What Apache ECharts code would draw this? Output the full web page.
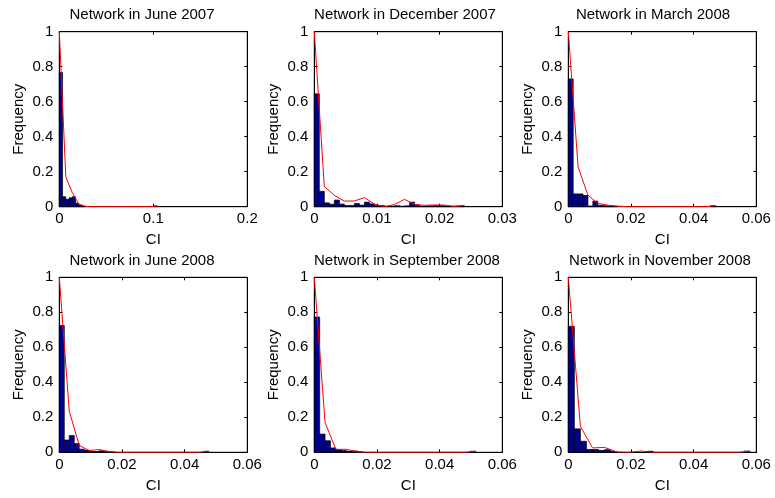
<!DOCTYPE html>
<html>
<head>
<meta charset="utf-8">
<script src="https://cdn.jsdelivr.net/npm/echarts@6/dist/echarts.min.js"></script>
<style>
html,body{margin:0;padding:0;background:#fff;}
#chart{width:775px;height:498px;}
</style>
</head>
<body>
<div id="chart"></div>
<script>
// ---------------- data ----------------
const panelTitles = [
  'Network in June 2007', 'Network in December 2007', 'Network in March 2008',
  'Network in June 2008', 'Network in September 2008', 'Network in November 2008'
];
const xAxisTitle = 'CI';
const yAxisTitle = 'Frequency';
// x-axis range / tick step per panel
const xAxisMax = [0.2, 0.03, 0.06, 0.06, 0.06, 0.06];
const xTickStep = [0.1, 0.01, 0.02, 0.02, 0.02, 0.02];
const yAxisMax = 1;
const yTickStep = 0.2;
// largest CI value in each network (histograms span [0, ciMax])
const ciMax = [0.104, 0.024, 0.047, 0.0477, 0.0515, 0.058];
const histBins = 30;   // bars
const lineBins = 15;   // red line (16 points)

// bar heights (relative frequency), 30 bins each
const histJun07 = [0.767,0.057,0.042,0.051,0.057,0.02,0.008,0.003,0,0,0,0,0,0,0,0,0,0,0,0,0,0,0,0,0,0,0,0,0,0.005];
const histDec07 = [0.645,0.088,0.022,0.014,0.038,0.015,0.007,0.007,0.018,0.009,0.026,0.016,0.007,0.007,0.003,0.003,0.006,0.003,0.005,0.026,0.009,0.003,0.003,0.005,0.006,0.006,0.003,0.002,0.004,0.003];
const histMar08 = [0.73,0.073,0.073,0.064,0.004,0.032,0.008,0.006,0.004,0.003,0,0,0,0,0,0,0,0,0,0,0,0,0,0,0,0,0,0,0,0.006];
const histJun08 = [0.725,0.07,0.096,0.05,0.018,0.012,0.005,0.004,0.009,0.006,0.003,0,0,0,0,0,0,0,0,0,0,0,0,0,0,0,0,0,0,0.006];
const histSep08 = [0.773,0.104,0.066,0.025,0.015,0.01,0.006,0.008,0.003,0,0,0,0,0,0,0,0,0,0,0,0,0,0,0,0,0,0,0,0,0.006];
const histNov08 = [0.72,0.134,0.063,0.016,0.016,0.011,0.015,0.005,0,0,0,0,0,0.006,0,0,0,0,0,0,0,0,0,0,0,0,0,0,0,0.007];

// red line values, 16 points each
const lineJun07 = [1,0.17,0.08,0.015,0.002,0,0,0,0,0,0,0,0,0,0,0.004];
const lineDec07 = [1,0.115,0.065,0.032,0.033,0.052,0.015,0,0.013,0.042,0.013,0.008,0.01,0.009,0.002,0.008];
const lineMar08 = [1,0.227,0.066,0.019,0.009,0.003,0,0,0,0,0,0,0,0,0,0.006];
const lineJun08 = [1,0.235,0.04,0.01,0.016,0.003,0,0,0,0,0,0,0,0,0,0.006];
const lineSep08 = [1,0.17,0.017,0.017,0.002,0,0,0,0,0,0,0,0,0,0,0.006];
const lineNov08 = [1,0.148,0.025,0.028,0.002,0,0.007,0,0,0,0,0,0,0,0,0.006];

const histAll = [histJun07, histDec07, histMar08, histJun08, histSep08, histNov08];
const lineAll = [lineJun07, lineDec07, lineMar08, lineJun08, lineSep08, lineNov08];

// ---------------- layout ----------------
const FONT = 'Liberation Sans, Arial, Helvetica, sans-serif';
const FS = 15;
const colLeft = [59.3, 314.3, 568.3];
const rowTop = [31.7, 277.3];
const plotW = 188, plotH = 175;
const titleCenterX = [142, 405, 653, 142, 407, 660];
const titleCenterY = [14.7, 260.5];

const grids = [], xAxes = [], yAxes = [], series = [], graphics = [];

for (let p = 0; p < 6; p++) {
  const r = Math.floor(p / 3), c = p % 3;
  grids.push({
    left: colLeft[c], top: rowTop[r], width: plotW, height: plotH,
    show: true, borderColor: '#000', borderWidth: 1, backgroundColor: '#fff'
  });
  const common = {
    type: 'value', gridIndex: p,
    splitLine: { show: false },
    axisLine: { show: true, onZero: false, lineStyle: { color: '#000', width: 1 } },
    axisTick: { show: true, inside: true, length: 3, lineStyle: { color: '#000' } }
  };
  xAxes.push(Object.assign({}, common, {
    position: 'bottom', min: 0, max: xAxisMax[p], interval: xTickStep[p],
    name: xAxisTitle, nameLocation: 'middle', nameGap: 26,
    nameTextStyle: { fontFamily: FONT, fontSize: FS, color: '#000' },
    axisLabel: { show: true, margin: 5, fontFamily: FONT, fontSize: FS, color: '#000', showMaxLabel: true, showMinLabel: true }
  }));
  xAxes.push(Object.assign({}, common, {
    position: 'top', min: 0, max: xAxisMax[p], interval: xTickStep[p],
    axisLabel: { show: false }
  }));
  yAxes.push(Object.assign({}, common, {
    position: 'left', min: 0, max: yAxisMax, interval: yTickStep,
    name: yAxisTitle, nameLocation: 'middle', nameGap: 33, nameRotate: 90,
    nameTextStyle: { fontFamily: FONT, fontSize: FS, color: '#000' },
    axisLabel: { show: true, margin: 6, fontFamily: FONT, fontSize: FS, color: '#000' }
  }));
  yAxes.push(Object.assign({}, common, {
    position: 'right', min: 0, max: yAxisMax, interval: yTickStep,
    axisLabel: { show: false }
  }));

  const hw = ciMax[p] / histBins;
  const barData = histAll[p]
    .map((f, i) => [i * hw, (i + 1) * hw, f])
    .filter(d => d[2] > 0);
  series.push({
    type: 'custom', xAxisIndex: 2 * p, yAxisIndex: 2 * p, z: 2,
    data: barData,
    encode: { x: [0, 1], y: 2 },
    renderItem: function (params, api) {
      const p0 = api.coord([api.value(0), 0]);
      const p1 = api.coord([api.value(1), api.value(2)]);
      return {
        type: 'rect',
        shape: { x: p0[0], y: p1[1], width: p1[0] - p0[0], height: p0[1] - p1[1] },
        style: { fill: '#00008F', stroke: '#000', lineWidth: 0.7 }
      };
    },
    silent: true
  });

  const lw = ciMax[p] / lineBins;
  series.push({
    type: 'line', xAxisIndex: 2 * p, yAxisIndex: 2 * p, z: 5,
    data: lineAll[p].map((f, i) => [i * lw, f]),
    showSymbol: false, symbol: 'none',
    lineStyle: { color: '#FF0000', width: 1 },
    animation: false, silent: true
  });

  graphics.push({
    type: 'text', x: titleCenterX[p], y: titleCenterY[r],
    style: { text: panelTitles[p], font: FS + 'px ' + FONT, fill: '#000', align: 'center', verticalAlign: 'middle' }
  });
}

const chart = echarts.init(document.getElementById('chart'), null, { renderer: 'canvas' });
chart.setOption({
  backgroundColor: '#fff',
  animation: false,
  grid: grids,
  xAxis: xAxes,
  yAxis: yAxes,
  series: series,
  graphic: graphics
});
</script>
</body>
</html>
